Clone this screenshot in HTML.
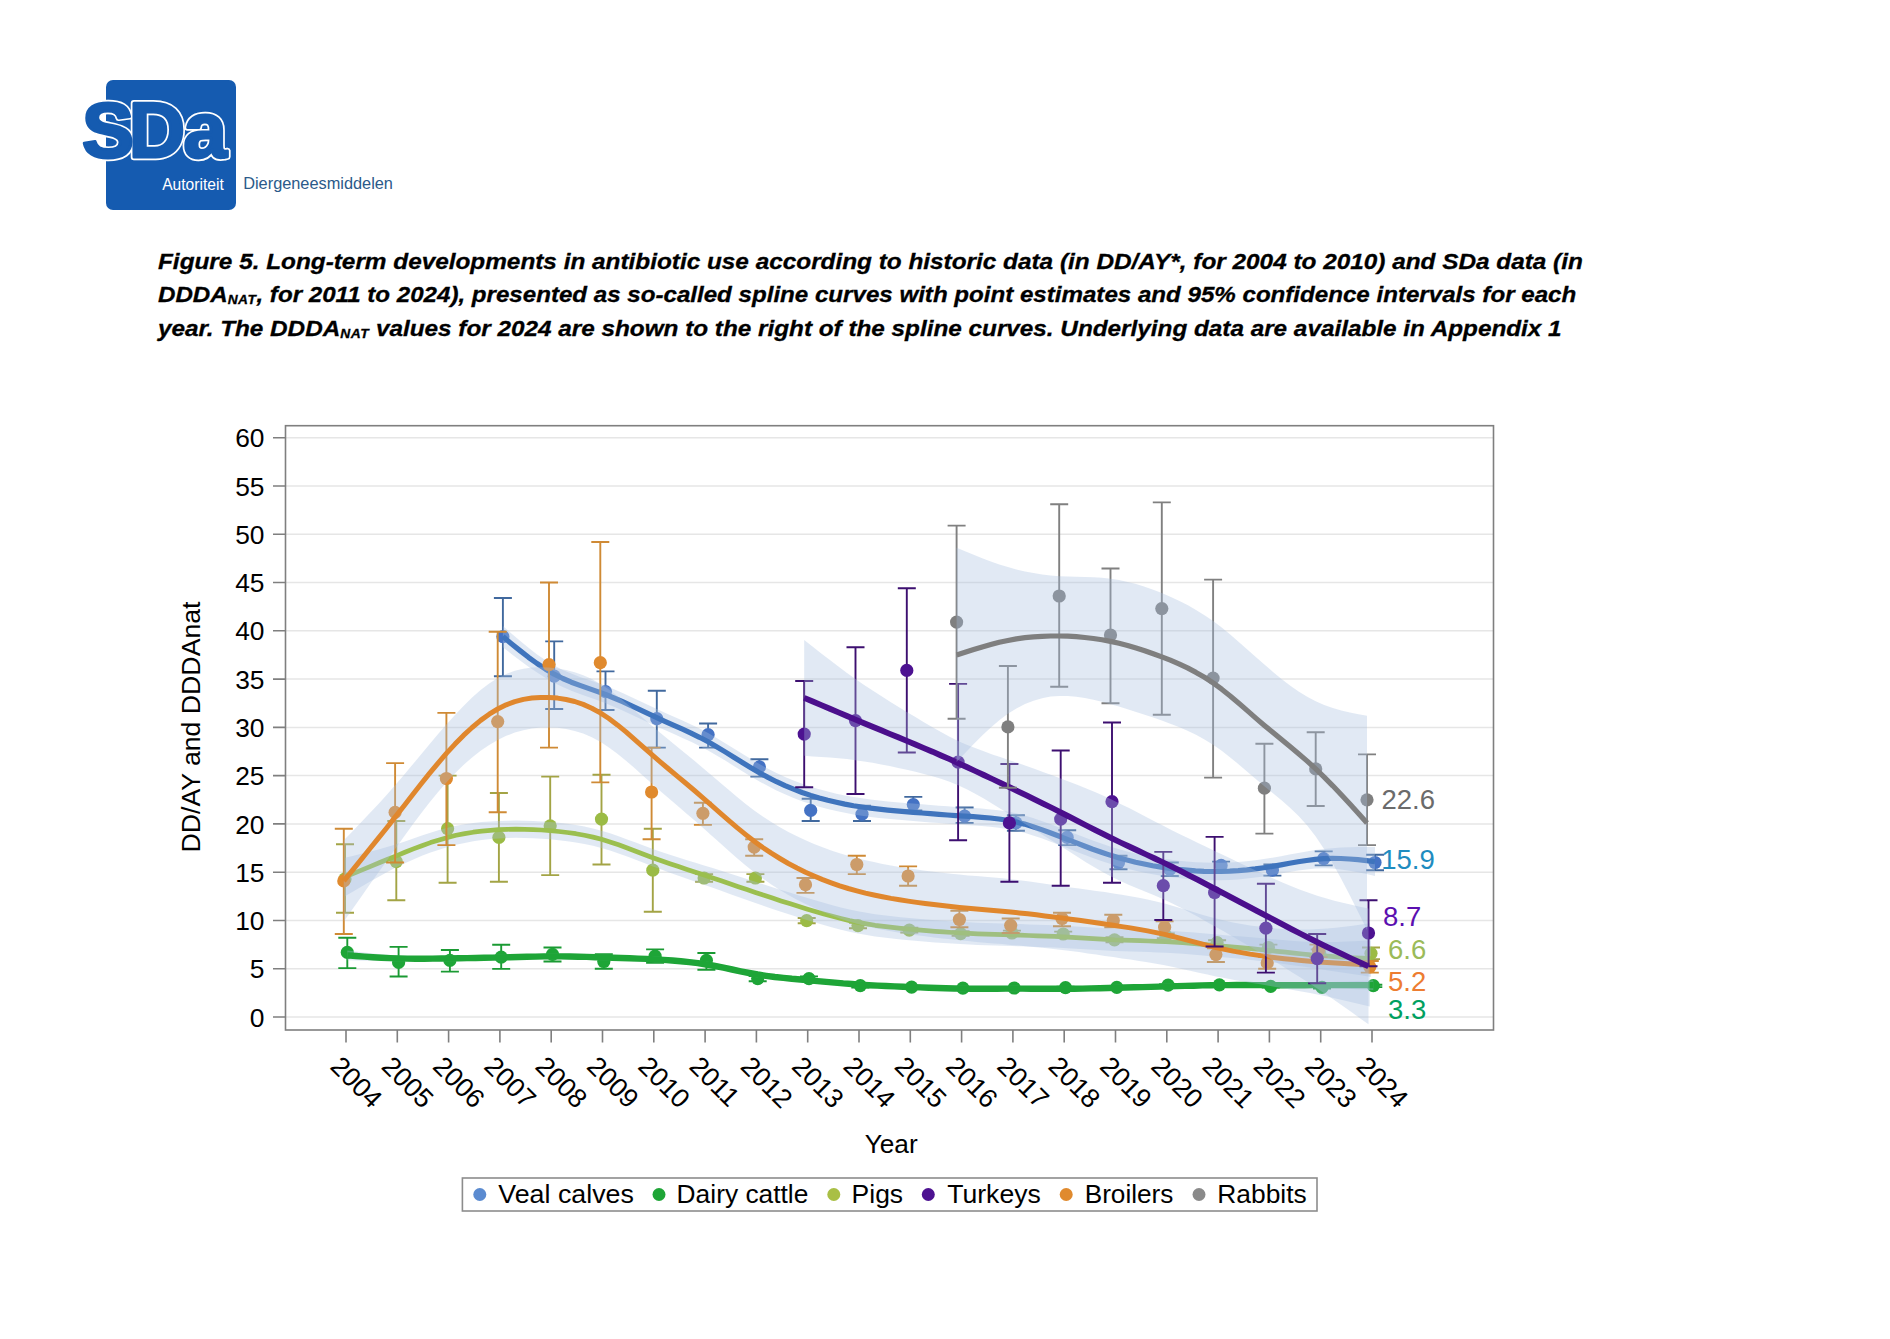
<!DOCTYPE html>
<html lang="en"><head><meta charset="utf-8"><title>Figure 5</title>
<style>
html,body{margin:0;padding:0;background:#fff;}
body{width:1890px;height:1339px;position:relative;overflow:hidden;font-family:"Liberation Sans",sans-serif;}
#logo{position:absolute;left:0;top:0;}
.cap{position:absolute;left:158px;white-space:nowrap;font:italic bold 22px "Liberation Sans",sans-serif;color:#000;-webkit-text-stroke:0.3px #000;transform-origin:0 50%;line-height:30px;height:30px;}
.cap .sub{font-size:12.5px;position:relative;top:2px;letter-spacing:0.5px;}
svg text{font-family:"Liberation Sans",sans-serif;}
</style></head><body>
<svg id="logo" width="460" height="230" viewBox="0 0 460 230">
<rect x="106" y="80" width="130" height="130" rx="7" fill="#155bb0"/>
<g font-weight="bold" font-size="78" text-anchor="middle" stroke-linejoin="round" fill="#155bb0">
<text y="157.3" stroke="#fff" stroke-width="6.4"><tspan x="108">S</tspan><tspan x="157">D</tspan><tspan x="205.2">a</tspan></text>
<text y="157.3" stroke="#155bb0" stroke-width="3"><tspan x="108">S</tspan><tspan x="157">D</tspan><tspan x="205.2">a</tspan></text>
</g>
<text x="162.2" y="189.6" font-size="15.6" fill="#fff">Autoriteit</text>
<text x="243.2" y="189.4" font-size="16.33" fill="#2b5a8a">Diergeneesmiddelen</text>
</svg>
<div class="cap" id="c1" style="top:246.6px;transform:scaleX(1.1062)">Figure 5. Long-term developments in antibiotic use according to historic data (in DD/AY*, for 2004 to 2010) and SDa data (in</div>
<div class="cap" id="c2" style="top:279.5px;transform:scaleX(1.0962)">DDDA<span class="sub">NAT</span>, for 2011 to 2024), presented as so-called spline curves with point estimates and 95% confidence intervals for each</div>
<div class="cap" id="c3" style="top:313.9px;transform:scaleX(1.1041)">year. The DDDA<span class="sub">NAT</span> values for 2024 are shown to the right of the spline curves. Underlying data are available in Appendix 1</div>
<svg width="1890" height="1339" viewBox="0 0 1890 1339" style="position:absolute;left:0;top:0">
<path d="M286,1017.0H1493M286,968.7H1493M286,920.5H1493M286,872.2H1493M286,823.9H1493M286,775.6H1493M286,727.4H1493M286,679.1H1493M286,630.8H1493M286,582.5H1493M286,534.2H1493M286,486.0H1493M286,437.7H1493" stroke="#e6e6e6" stroke-width="1.5" fill="none"/>
<g id="veal">
<path d="M502.9,598.0V676.2M493.9,598.0h18M493.9,676.2h18M554.2,641.4V709.0M545.2,641.4h18M545.2,709.0h18M605.5,671.4V710.0M596.5,671.4h18M596.5,710.0h18M656.8,690.7V747.6M647.8,690.7h18M647.8,747.6h18M708.1,723.5V747.6M699.1,723.5h18M699.1,747.6h18M759.4,759.2V776.6M750.4,759.2h18M750.4,776.6h18M810.7,798.8V821.0M801.7,798.8h18M801.7,821.0h18M862.0,805.6V821.0M853.0,805.6h18M853.0,821.0h18M913.3,796.9V810.4M904.3,796.9h18M904.3,810.4h18M964.6,807.5V822.9M955.6,807.5h18M955.6,822.9h18M1015.9,815.2V830.7M1006.9,815.2h18M1006.9,830.7h18M1067.2,830.2V845.1M1058.2,830.2h18M1058.2,845.1h18M1118.5,855.8V869.3M1109.5,855.8h18M1109.5,869.3h18M1169.8,862.5V876.0M1160.8,862.5h18M1160.8,876.0h18M1221.1,861.6V870.2M1212.1,861.6h18M1212.1,870.2h18M1272.4,864.5V875.6M1263.4,864.5h18M1263.4,875.6h18M1323.7,851.4V865.4M1314.7,851.4h18M1314.7,865.4h18M1375.0,854.8V870.2M1366.0,854.8h18M1366.0,870.2h18" fill="none" stroke="#41699e" stroke-width="1.9"/>
<g fill="#4472c4"><circle cx="502.9" cy="636.6" r="6.6"/><circle cx="554.2" cy="676.2" r="6.6"/><circle cx="605.5" cy="691.6" r="6.6"/><circle cx="656.8" cy="718.7" r="6.6"/><circle cx="708.1" cy="734.6" r="6.6"/><circle cx="759.4" cy="766.9" r="6.6"/><circle cx="810.7" cy="810.4" r="6.6"/><circle cx="862.0" cy="814.2" r="6.6"/><circle cx="913.3" cy="804.6" r="6.6"/><circle cx="964.6" cy="816.2" r="6.6"/><circle cx="1015.9" cy="822.9" r="6.6"/><circle cx="1067.2" cy="837.4" r="6.6"/><circle cx="1118.5" cy="862.5" r="6.6"/><circle cx="1169.8" cy="869.3" r="6.6"/><circle cx="1221.1" cy="865.4" r="6.6"/><circle cx="1272.4" cy="870.2" r="6.6"/><circle cx="1323.7" cy="858.7" r="6.6"/><circle cx="1375.0" cy="862.5" r="6.6"/></g>
<path d="M502.9,626.0 L511.4,633.4 L520.0,640.8 L528.5,647.8 L537.1,654.4 L545.6,660.3 L554.2,665.6 L562.8,669.9 L571.3,673.6 L579.9,676.9 L588.4,679.8 L597.0,682.7 L605.5,685.8 L614.0,689.3 L622.6,693.0 L631.1,696.9 L639.7,700.9 L648.2,705.0 L656.8,709.0 L665.4,712.9 L673.9,716.7 L682.5,720.5 L691.0,724.5 L699.5,728.6 L708.1,733.1 L716.6,738.0 L725.2,743.2 L733.8,748.5 L742.3,753.8 L750.9,759.0 L759.4,764.0 L768.0,768.7 L776.5,773.0 L785.0,776.9 L793.6,780.5 L802.1,783.8 L810.7,786.7 L819.2,789.3 L827.8,791.6 L836.4,793.7 L844.9,795.4 L853.5,797.0 L862.0,798.3 L870.5,799.5 L879.1,800.5 L887.7,801.4 L896.2,802.2 L904.8,802.9 L913.3,803.6 L921.9,804.3 L930.4,805.0 L939.0,805.7 L947.5,806.3 L956.0,806.9 L964.6,807.5 L973.2,808.0 L981.7,808.6 L990.2,809.4 L998.8,810.3 L1007.4,811.6 L1015.9,813.3 L1024.5,815.4 L1033.0,818.0 L1041.6,820.9 L1050.1,824.0 L1058.7,827.3 L1067.2,830.7 L1075.8,834.0 L1084.3,837.3 L1092.8,840.5 L1101.4,843.5 L1110.0,846.4 L1118.5,849.0 L1127.1,851.4 L1135.6,853.5 L1144.2,855.3 L1152.7,857.0 L1161.2,858.4 L1169.8,859.6 L1178.3,860.7 L1186.9,861.5 L1195.5,862.2 L1204.0,862.6 L1212.6,862.8 L1221.1,862.8 L1229.7,862.5 L1238.2,862.0 L1246.8,861.2 L1255.3,860.2 L1263.8,859.1 L1272.4,857.7 L1281.0,856.2 L1289.5,854.6 L1298.1,853.0 L1306.6,851.5 L1315.2,850.1 L1323.7,849.0 L1332.2,848.2 L1340.8,847.6 L1349.3,847.3 L1357.9,847.1 L1366.5,847.1 L1375.0,847.1 L1375.0,876.0 L1366.5,874.1 L1357.9,872.3 L1349.3,870.7 L1340.8,869.5 L1332.2,868.6 L1323.7,868.3 L1315.2,868.6 L1306.6,869.4 L1298.1,870.6 L1289.5,872.0 L1281.0,873.6 L1272.4,875.1 L1263.8,876.4 L1255.3,877.6 L1246.8,878.6 L1238.2,879.4 L1229.7,879.9 L1221.1,880.2 L1212.6,880.2 L1204.0,880.0 L1195.5,879.6 L1186.9,878.9 L1178.3,878.1 L1169.8,877.0 L1161.2,875.8 L1152.7,874.3 L1144.2,872.7 L1135.6,870.8 L1127.1,868.7 L1118.5,866.4 L1110.0,863.8 L1101.4,860.9 L1092.8,857.9 L1084.3,854.7 L1075.8,851.4 L1067.2,848.0 L1058.7,844.7 L1050.1,841.4 L1041.6,838.3 L1033.0,835.4 L1024.5,832.8 L1015.9,830.7 L1007.4,829.0 L998.8,827.7 L990.2,826.7 L981.7,826.0 L973.2,825.4 L964.6,824.9 L956.0,824.3 L947.5,823.7 L939.0,823.0 L930.4,822.4 L921.9,821.7 L913.3,821.0 L904.8,820.3 L896.2,819.6 L887.7,818.8 L879.1,817.9 L870.5,816.9 L862.0,815.7 L853.5,814.4 L844.9,812.8 L836.4,811.0 L827.8,809.0 L819.2,806.7 L810.7,804.1 L802.1,801.2 L793.6,797.9 L785.0,794.3 L776.5,790.4 L768.0,786.1 L759.4,781.4 L750.9,776.4 L742.3,771.2 L733.8,765.9 L725.2,760.6 L716.6,755.4 L708.1,750.5 L699.5,746.0 L691.0,741.8 L682.5,737.9 L673.9,734.0 L665.4,730.2 L656.8,726.4 L648.2,722.4 L639.7,718.4 L631.1,714.4 L622.6,710.4 L614.0,706.7 L605.5,703.2 L597.0,700.0 L588.4,697.0 L579.9,694.0 L571.3,690.7 L562.8,687.1 L554.2,682.9 L545.6,678.1 L537.1,672.6 L528.5,666.7 L520.0,660.4 L511.4,653.9 L502.9,647.2Z" fill="#a8bedf" fill-opacity="0.34"/>
<path d="M502.9,636.6 L511.4,643.7 L520.0,650.6 L528.5,657.3 L537.1,663.5 L545.6,669.2 L554.2,674.2 L562.8,678.5 L571.3,682.2 L579.9,685.4 L588.4,688.4 L597.0,691.4 L605.5,694.5 L614.0,698.0 L622.6,701.7 L631.1,705.6 L639.7,709.7 L648.2,713.7 L656.8,717.7 L665.4,721.6 L673.9,725.4 L682.5,729.2 L691.0,733.1 L699.5,737.3 L708.1,741.8 L716.6,746.7 L725.2,751.9 L733.8,757.2 L742.3,762.5 L750.9,767.7 L759.4,772.7 L768.0,777.4 L776.5,781.7 L785.0,785.6 L793.6,789.2 L802.1,792.5 L810.7,795.4 L819.2,798.0 L827.8,800.3 L836.4,802.3 L844.9,804.1 L853.5,805.7 L862.0,807.0 L870.5,808.2 L879.1,809.2 L887.7,810.1 L896.2,810.9 L904.8,811.6 L913.3,812.3 L921.9,813.0 L930.4,813.7 L939.0,814.4 L947.5,815.0 L956.0,815.6 L964.6,816.2 L973.2,816.7 L981.7,817.3 L990.2,818.0 L998.8,819.0 L1007.4,820.3 L1015.9,822.0 L1024.5,824.1 L1033.0,826.7 L1041.6,829.6 L1050.1,832.7 L1058.7,836.0 L1067.2,839.3 L1075.8,842.7 L1084.3,846.0 L1092.8,849.2 L1101.4,852.2 L1110.0,855.1 L1118.5,857.7 L1127.1,860.1 L1135.6,862.2 L1144.2,864.0 L1152.7,865.7 L1161.2,867.1 L1169.8,868.3 L1178.3,869.4 L1186.9,870.2 L1195.5,870.9 L1204.0,871.3 L1212.6,871.5 L1221.1,871.5 L1229.7,871.2 L1238.2,870.7 L1246.8,869.9 L1255.3,868.9 L1263.8,867.7 L1272.4,866.4 L1281.0,864.9 L1289.5,863.3 L1298.1,861.8 L1306.6,860.5 L1315.2,859.4 L1323.7,858.7 L1332.2,858.4 L1340.8,858.5 L1349.3,859.0 L1357.9,859.7 L1366.5,860.6 L1375.0,861.6" fill="none" stroke="#3f74bd" stroke-width="5.2" stroke-linejoin="round"/>
</g>
<g id="dairy">
<path d="M347.3,937.8V968.1M338.3,937.8h18M338.3,968.1h18M398.6,946.9V976.5M389.6,946.9h18M389.6,976.5h18M449.9,950.0V971.6M440.9,950.0h18M440.9,971.6h18M501.2,944.7V968.9M492.2,944.7h18M492.2,968.9h18M552.5,947.5V961.5M543.5,947.5h18M543.5,961.5h18M603.8,954.2V968.7M594.8,954.2h18M594.8,968.7h18M655.1,949.4V962.9M646.1,949.4h18M646.1,962.9h18M706.4,953.0V969.7M697.4,953.0h18M697.4,969.7h18M757.7,976.0V981.3M748.7,976.0h18M748.7,981.3h18M809.0,976.4V980.8M800.0,976.4h18M800.0,980.8h18M860.3,983.7V987.6M851.3,983.7h18M851.3,987.6h18M911.6,985.6V988.5M902.6,985.6h18M902.6,988.5h18M962.9,987.1V989.5M953.9,987.1h18M953.9,989.5h18M1014.2,987.1V989.0M1005.2,987.1h18M1005.2,989.0h18M1065.5,986.6V989.0M1056.5,986.6h18M1056.5,989.0h18M1116.8,986.1V988.5M1107.8,986.1h18M1107.8,988.5h18M1168.1,984.2V986.1M1159.1,984.2h18M1159.1,986.1h18M1219.4,983.7V986.1M1210.4,983.7h18M1210.4,986.1h18M1270.7,985.1V987.6M1261.7,985.1h18M1261.7,987.6h18M1322.0,986.1V988.5M1313.0,986.1h18M1313.0,988.5h18M1373.3,984.7V987.1M1364.3,984.7h18M1364.3,987.1h18" fill="none" stroke="#1a9a33" stroke-width="1.9"/>
<g fill="#1ea537"><circle cx="347.3" cy="952.4" r="6.6"/><circle cx="398.6" cy="962.4" r="6.6"/><circle cx="449.9" cy="960.4" r="6.6"/><circle cx="501.2" cy="957.1" r="6.6"/><circle cx="552.5" cy="954.4" r="6.6"/><circle cx="603.8" cy="961.5" r="6.6"/><circle cx="655.1" cy="956.2" r="6.6"/><circle cx="706.4" cy="960.4" r="6.6"/><circle cx="757.7" cy="978.6" r="6.6"/><circle cx="809.0" cy="978.6" r="6.6"/><circle cx="860.3" cy="985.6" r="6.6"/><circle cx="911.6" cy="987.1" r="6.6"/><circle cx="962.9" cy="988.2" r="6.6"/><circle cx="1014.2" cy="988.0" r="6.6"/><circle cx="1065.5" cy="987.7" r="6.6"/><circle cx="1116.8" cy="987.4" r="6.6"/><circle cx="1168.1" cy="985.1" r="6.6"/><circle cx="1219.4" cy="984.8" r="6.6"/><circle cx="1270.7" cy="986.4" r="6.6"/><circle cx="1322.0" cy="987.4" r="6.6"/><circle cx="1373.3" cy="985.7" r="6.6"/></g>
<path d="M347.3,950.6 L355.9,951.6 L364.4,952.6 L372.9,953.5 L381.5,954.3 L390.1,955.0 L398.6,955.5 L407.2,955.8 L415.7,955.9 L424.2,955.9 L432.8,955.8 L441.4,955.7 L449.9,955.5 L458.5,955.3 L467.0,955.2 L475.6,955.0 L484.1,954.9 L492.7,954.7 L501.2,954.5 L509.8,954.3 L518.3,954.1 L526.9,953.9 L535.4,953.7 L544.0,953.5 L552.5,953.5 L561.1,953.5 L569.6,953.6 L578.2,953.8 L586.7,954.0 L595.2,954.3 L603.8,954.5 L612.4,954.8 L620.9,955.1 L629.5,955.3 L638.0,955.7 L646.5,956.0 L655.1,956.5 L663.7,957.0 L672.2,957.6 L680.8,958.3 L689.3,959.2 L697.9,960.3 L706.4,961.6 L715.0,963.1 L723.5,964.8 L732.1,966.6 L740.6,968.4 L749.2,970.1 L757.7,971.6 L766.2,972.9 L774.8,974.1 L783.4,975.0 L791.9,975.9 L800.5,976.7 L809.0,977.4 L817.6,978.2 L826.1,979.0 L834.7,979.7 L843.2,980.5 L851.8,981.1 L860.3,981.8 L868.9,982.3 L877.4,982.7 L886.0,983.2 L894.5,983.5 L903.0,983.8 L911.6,984.2 L920.2,984.5 L928.7,984.8 L937.2,985.1 L945.8,985.4 L954.4,985.6 L962.9,985.7 L971.5,985.8 L980.0,985.8 L988.5,985.8 L997.1,985.8 L1005.7,985.7 L1014.2,985.7 L1022.8,985.7 L1031.3,985.8 L1039.9,985.9 L1048.4,985.9 L1057.0,985.9 L1065.5,985.9 L1074.1,985.8 L1082.6,985.7 L1091.2,985.5 L1099.7,985.3 L1108.2,985.1 L1116.8,984.8 L1125.4,984.6 L1133.9,984.4 L1142.5,984.2 L1151.0,984.0 L1159.6,983.7 L1168.1,983.5 L1176.7,983.3 L1185.2,983.0 L1193.8,982.8 L1202.3,982.6 L1210.9,982.4 L1219.4,982.2 L1228.0,982.2 L1236.5,982.1 L1245.1,982.1 L1253.6,982.1 L1262.2,982.2 L1270.7,982.2 L1279.2,982.3 L1287.8,982.4 L1296.4,982.4 L1304.9,982.4 L1313.5,982.4 L1322.0,982.2 L1330.6,982.0 L1339.1,981.8 L1347.7,981.5 L1356.2,981.1 L1364.8,980.7 L1373.3,980.3 L1373.3,990.0 L1364.8,989.6 L1356.2,989.2 L1347.7,988.8 L1339.1,988.5 L1330.6,988.2 L1322.0,988.0 L1313.5,987.9 L1304.9,987.9 L1296.4,987.9 L1287.8,988.0 L1279.2,988.0 L1270.7,988.0 L1262.2,988.0 L1253.6,988.0 L1245.1,988.0 L1236.5,988.0 L1228.0,988.0 L1219.4,988.0 L1210.9,988.2 L1202.3,988.3 L1193.8,988.5 L1185.2,988.8 L1176.7,989.0 L1168.1,989.3 L1159.6,989.5 L1151.0,989.8 L1142.5,990.0 L1133.9,990.2 L1125.4,990.4 L1116.8,990.6 L1108.2,990.9 L1099.7,991.1 L1091.2,991.3 L1082.6,991.5 L1074.1,991.6 L1065.5,991.7 L1057.0,991.7 L1048.4,991.7 L1039.9,991.7 L1031.3,991.6 L1022.8,991.5 L1014.2,991.5 L1005.7,991.5 L997.1,991.6 L988.5,991.6 L980.0,991.6 L971.5,991.6 L962.9,991.5 L954.4,991.4 L945.8,991.2 L937.2,990.9 L928.7,990.6 L920.2,990.3 L911.6,990.0 L903.0,989.6 L894.5,989.3 L886.0,988.9 L877.4,988.5 L868.9,988.1 L860.3,987.6 L851.8,986.9 L843.2,986.3 L834.7,985.5 L826.1,984.8 L817.6,984.0 L809.0,983.2 L800.5,982.4 L791.9,981.7 L783.4,980.8 L774.8,979.8 L766.2,978.7 L757.7,977.4 L749.2,975.9 L740.6,974.2 L732.1,972.4 L723.5,970.6 L715.0,968.9 L706.4,967.4 L697.9,966.1 L689.3,965.0 L680.8,964.1 L672.2,963.4 L663.7,962.8 L655.1,962.3 L646.5,961.8 L638.0,961.5 L629.5,961.1 L620.9,960.9 L612.4,960.6 L603.8,960.3 L595.2,960.1 L586.7,959.8 L578.2,959.6 L569.6,959.4 L561.1,959.3 L552.5,959.3 L544.0,959.3 L535.4,959.4 L526.9,959.6 L518.3,959.8 L509.8,960.1 L501.2,960.3 L492.7,960.5 L484.1,960.7 L475.6,960.9 L467.0,961.1 L458.5,961.2 L449.9,961.3 L441.4,961.4 L432.8,961.4 L424.2,961.4 L415.7,961.4 L407.2,961.4 L398.6,961.3 L390.1,961.2 L381.5,961.0 L372.9,960.8 L364.4,960.7 L355.9,960.4 L347.3,960.2Z" fill="#a8bedf" fill-opacity="0.34"/>
<path d="M347.3,955.4 L355.9,956.0 L364.4,956.6 L372.9,957.2 L381.5,957.7 L390.1,958.1 L398.6,958.4 L407.2,958.6 L415.7,958.7 L424.2,958.7 L432.8,958.6 L441.4,958.5 L449.9,958.4 L458.5,958.3 L467.0,958.1 L475.6,958.0 L484.1,957.8 L492.7,957.6 L501.2,957.4 L509.8,957.2 L518.3,957.0 L526.9,956.7 L535.4,956.6 L544.0,956.4 L552.5,956.4 L561.1,956.4 L569.6,956.5 L578.2,956.7 L586.7,956.9 L595.2,957.2 L603.8,957.4 L612.4,957.7 L620.9,958.0 L629.5,958.2 L638.0,958.6 L646.5,958.9 L655.1,959.4 L663.7,959.9 L672.2,960.5 L680.8,961.2 L689.3,962.1 L697.9,963.2 L706.4,964.5 L715.0,966.0 L723.5,967.7 L732.1,969.5 L740.6,971.3 L749.2,973.0 L757.7,974.5 L766.2,975.8 L774.8,977.0 L783.4,977.9 L791.9,978.8 L800.5,979.5 L809.0,980.3 L817.6,981.1 L826.1,981.9 L834.7,982.6 L843.2,983.4 L851.8,984.0 L860.3,984.7 L868.9,985.2 L877.4,985.6 L886.0,986.0 L894.5,986.4 L903.0,986.7 L911.6,987.1 L920.2,987.4 L928.7,987.7 L937.2,988.0 L945.8,988.3 L954.4,988.5 L962.9,988.6 L971.5,988.7 L980.0,988.7 L988.5,988.7 L997.1,988.7 L1005.7,988.6 L1014.2,988.6 L1022.8,988.6 L1031.3,988.7 L1039.9,988.8 L1048.4,988.8 L1057.0,988.8 L1065.5,988.8 L1074.1,988.7 L1082.6,988.6 L1091.2,988.4 L1099.7,988.2 L1108.2,988.0 L1116.8,987.7 L1125.4,987.5 L1133.9,987.3 L1142.5,987.1 L1151.0,986.9 L1159.6,986.6 L1168.1,986.4 L1176.7,986.1 L1185.2,985.9 L1193.8,985.7 L1202.3,985.4 L1210.9,985.3 L1219.4,985.1 L1228.0,985.1 L1236.5,985.0 L1245.1,985.0 L1253.6,985.1 L1262.2,985.1 L1270.7,985.1 L1279.2,985.2 L1287.8,985.2 L1296.4,985.2 L1304.9,985.2 L1313.5,985.1 L1322.0,985.1 L1330.6,985.1 L1339.1,985.1 L1347.7,985.1 L1356.2,985.1 L1364.8,985.1 L1373.3,985.1" fill="none" stroke="#1ea537" stroke-width="6.4" stroke-linejoin="round"/>
</g>
<g id="pigs">
<path d="M345.0,844.2V912.7M336.0,844.2h18M336.0,912.7h18M396.3,821.0V900.2M387.3,821.0h18M387.3,900.2h18M447.6,775.6V882.8M438.6,775.6h18M438.6,882.8h18M498.9,793.0V881.8M489.9,793.0h18M489.9,881.8h18M550.2,776.6V875.1M541.2,776.6h18M541.2,875.1h18M601.5,774.7V864.5M592.5,774.7h18M592.5,864.5h18M652.8,828.7V911.8M643.8,828.7h18M643.8,911.8h18M704.1,874.1V881.8M695.1,874.1h18M695.1,881.8h18M755.4,874.1V881.8M746.4,874.1h18M746.4,881.8h18M806.7,918.0V923.3M797.7,918.0h18M797.7,923.3h18M858.0,922.9V928.2M849.0,922.9h18M849.0,928.2h18M909.3,927.7V932.5M900.3,927.7h18M900.3,932.5h18M960.6,931.1V935.9M951.6,931.1h18M951.6,935.9h18M1011.9,930.6V935.4M1002.9,930.6h18M1002.9,935.4h18M1063.2,931.6V936.4M1054.2,931.6h18M1054.2,936.4h18M1114.5,937.3V942.2M1105.5,937.3h18M1105.5,942.2h18M1165.8,933.5V938.3M1156.8,933.5h18M1156.8,938.3h18M1217.1,940.2V945.1M1208.1,940.2h18M1208.1,945.1h18M1268.4,944.6V950.4M1259.4,944.6h18M1259.4,950.4h18M1319.7,949.4V957.1M1310.7,949.4h18M1310.7,957.1h18M1371.0,947.5V959.1M1362.0,947.5h18M1362.0,959.1h18" fill="none" stroke="#a3a445" stroke-width="1.9"/>
<g fill="#9bbb45"><circle cx="345.0" cy="878.9" r="6.6"/><circle cx="396.3" cy="861.6" r="6.6"/><circle cx="447.6" cy="828.7" r="6.6"/><circle cx="498.9" cy="837.4" r="6.6"/><circle cx="550.2" cy="825.8" r="6.6"/><circle cx="601.5" cy="819.1" r="6.6"/><circle cx="652.8" cy="870.2" r="6.6"/><circle cx="704.1" cy="878.0" r="6.6"/><circle cx="755.4" cy="878.0" r="6.6"/><circle cx="806.7" cy="920.7" r="6.6"/><circle cx="858.0" cy="925.6" r="6.6"/><circle cx="909.3" cy="930.2" r="6.6"/><circle cx="960.6" cy="933.7" r="6.6"/><circle cx="1011.9" cy="933.0" r="6.6"/><circle cx="1063.2" cy="934.0" r="6.6"/><circle cx="1114.5" cy="939.8" r="6.6"/><circle cx="1165.8" cy="935.9" r="6.6"/><circle cx="1217.1" cy="942.7" r="6.6"/><circle cx="1268.4" cy="947.5" r="6.6"/><circle cx="1319.7" cy="953.3" r="6.6"/><circle cx="1371.0" cy="953.3" r="6.6"/></g>
<path d="M345.0,857.7 L353.6,855.7 L362.1,853.6 L370.6,851.4 L379.2,849.2 L387.8,846.8 L396.3,844.2 L404.9,841.4 L413.4,838.5 L421.9,835.5 L430.5,832.7 L439.1,830.1 L447.6,827.8 L456.1,825.8 L464.7,824.3 L473.2,823.1 L481.8,822.1 L490.4,821.5 L498.9,821.0 L507.5,820.7 L516.0,820.6 L524.5,820.7 L533.1,820.9 L541.6,821.4 L550.2,822.0 L558.8,822.8 L567.3,823.7 L575.9,825.0 L584.4,826.5 L593.0,828.4 L601.5,830.7 L610.0,833.3 L618.6,836.2 L627.2,839.4 L635.7,842.6 L644.2,845.8 L652.8,849.0 L661.4,852.0 L669.9,854.8 L678.5,857.5 L687.0,860.2 L695.5,862.8 L704.1,865.4 L712.7,868.1 L721.2,870.8 L729.8,873.6 L738.3,876.3 L746.9,879.1 L755.4,881.8 L764.0,884.6 L772.5,887.2 L781.0,889.9 L789.6,892.6 L798.2,895.2 L806.7,897.8 L815.2,900.3 L823.8,902.8 L832.4,905.2 L840.9,907.4 L849.5,909.5 L858.0,911.3 L866.6,912.8 L875.1,914.2 L883.7,915.3 L892.2,916.3 L900.8,917.2 L909.3,918.0 L917.9,918.8 L926.4,919.5 L935.0,920.2 L943.5,920.8 L952.1,921.4 L960.6,921.9 L969.2,922.3 L977.7,922.7 L986.2,923.0 L994.8,923.3 L1003.4,923.6 L1011.9,923.8 L1020.5,924.1 L1029.0,924.4 L1037.6,924.7 L1046.1,925.0 L1054.7,925.3 L1063.2,925.8 L1071.8,926.2 L1080.3,926.7 L1088.8,927.3 L1097.4,927.8 L1106.0,928.2 L1114.5,928.7 L1123.1,929.0 L1131.6,929.3 L1140.2,929.6 L1148.7,929.9 L1157.2,930.2 L1165.8,930.6 L1174.3,931.1 L1182.9,931.7 L1191.5,932.3 L1200.0,933.0 L1208.6,933.7 L1217.1,934.4 L1225.7,935.2 L1234.2,935.9 L1242.8,936.6 L1251.3,937.3 L1259.8,938.1 L1268.4,938.8 L1277.0,939.5 L1285.5,940.2 L1294.1,940.9 L1302.6,941.4 L1311.2,941.8 L1319.7,942.1 L1328.2,942.1 L1336.8,941.9 L1345.4,941.6 L1353.9,941.2 L1362.5,940.8 L1371.0,940.2 L1371.0,976.9 L1362.5,975.6 L1353.9,974.3 L1345.4,973.0 L1336.8,971.7 L1328.2,970.4 L1319.7,969.1 L1311.2,967.8 L1302.6,966.6 L1294.1,965.4 L1285.5,964.2 L1277.0,963.0 L1268.4,962.0 L1259.8,961.0 L1251.3,960.0 L1242.8,959.1 L1234.2,958.3 L1225.7,957.4 L1217.1,956.7 L1208.6,955.9 L1200.0,955.2 L1191.5,954.5 L1182.9,953.8 L1174.3,953.3 L1165.8,952.8 L1157.2,952.4 L1148.7,952.1 L1140.2,951.8 L1131.6,951.5 L1123.1,951.2 L1114.5,950.9 L1106.0,950.4 L1097.4,950.0 L1088.8,949.5 L1080.3,948.9 L1071.8,948.4 L1063.2,948.0 L1054.7,947.6 L1046.1,947.2 L1037.6,946.9 L1029.0,946.6 L1020.5,946.3 L1011.9,946.0 L1003.4,945.8 L994.8,945.5 L986.2,945.2 L977.7,944.9 L969.2,944.5 L960.6,944.1 L952.1,943.6 L943.5,943.0 L935.0,942.4 L926.4,941.7 L917.9,941.0 L909.3,940.2 L900.8,939.4 L892.2,938.5 L883.7,937.5 L875.1,936.4 L866.6,935.0 L858.0,933.5 L849.5,931.7 L840.9,929.7 L832.4,927.4 L823.8,925.1 L815.2,922.6 L806.7,920.0 L798.2,917.3 L789.6,914.6 L781.0,911.8 L772.5,908.9 L764.0,906.0 L755.4,903.1 L746.9,900.1 L738.3,897.0 L729.8,893.9 L721.2,890.8 L712.7,887.8 L704.1,884.7 L695.5,881.7 L687.0,878.7 L678.5,875.7 L669.9,872.7 L661.4,869.6 L652.8,866.4 L644.2,863.1 L635.7,859.8 L627.2,856.6 L618.6,853.5 L610.0,850.6 L601.5,848.0 L593.0,845.8 L584.4,844.0 L575.9,842.5 L567.3,841.2 L558.8,840.2 L550.2,839.3 L541.6,838.7 L533.1,838.2 L524.5,837.9 L516.0,837.8 L507.5,838.0 L498.9,838.4 L490.4,839.1 L481.8,840.1 L473.2,841.3 L464.7,842.9 L456.1,844.8 L447.6,847.1 L439.1,849.7 L430.5,852.6 L421.9,855.8 L413.4,859.4 L404.9,863.2 L396.3,867.3 L387.8,871.8 L379.2,876.4 L370.6,881.2 L362.1,886.2 L353.6,891.2 L345.0,896.3Z" fill="#a8bedf" fill-opacity="0.34"/>
<path d="M345.0,877.0 L353.6,873.4 L362.1,869.9 L370.6,866.3 L379.2,862.8 L387.8,859.3 L396.3,855.8 L404.9,852.3 L413.4,848.9 L421.9,845.7 L430.5,842.6 L439.1,839.9 L447.6,837.4 L456.1,835.3 L464.7,833.6 L473.2,832.2 L481.8,831.1 L490.4,830.3 L498.9,829.7 L507.5,829.3 L516.0,829.2 L524.5,829.3 L533.1,829.6 L541.6,830.0 L550.2,830.7 L558.8,831.5 L567.3,832.5 L575.9,833.7 L584.4,835.3 L593.0,837.1 L601.5,839.3 L610.0,841.9 L618.6,844.8 L627.2,848.0 L635.7,851.2 L644.2,854.5 L652.8,857.7 L661.4,860.8 L669.9,863.7 L678.5,866.6 L687.0,869.4 L695.5,872.2 L704.1,875.1 L712.7,877.9 L721.2,880.8 L729.8,883.7 L738.3,886.7 L746.9,889.6 L755.4,892.5 L764.0,895.3 L772.5,898.1 L781.0,900.9 L789.6,903.6 L798.2,906.2 L806.7,908.9 L815.2,911.4 L823.8,913.9 L832.4,916.3 L840.9,918.5 L849.5,920.6 L858.0,922.4 L866.6,923.9 L875.1,925.3 L883.7,926.4 L892.2,927.4 L900.8,928.3 L909.3,929.1 L917.9,929.9 L926.4,930.6 L935.0,931.3 L943.5,931.9 L952.1,932.5 L960.6,933.0 L969.2,933.4 L977.7,933.8 L986.2,934.1 L994.8,934.4 L1003.4,934.7 L1011.9,934.9 L1020.5,935.2 L1029.0,935.5 L1037.6,935.8 L1046.1,936.1 L1054.7,936.4 L1063.2,936.9 L1071.8,937.3 L1080.3,937.8 L1088.8,938.4 L1097.4,938.9 L1106.0,939.3 L1114.5,939.8 L1123.1,940.1 L1131.6,940.4 L1140.2,940.7 L1148.7,941.0 L1157.2,941.3 L1165.8,941.7 L1174.3,942.2 L1182.9,942.7 L1191.5,943.4 L1200.0,944.1 L1208.6,944.8 L1217.1,945.6 L1225.7,946.3 L1234.2,947.1 L1242.8,947.9 L1251.3,948.7 L1259.8,949.5 L1268.4,950.4 L1277.0,951.3 L1285.5,952.2 L1294.1,953.1 L1302.6,954.0 L1311.2,954.8 L1319.7,955.6 L1328.2,956.2 L1336.8,956.8 L1345.4,957.3 L1353.9,957.8 L1362.5,958.2 L1371.0,958.6" fill="none" stroke="#9bbf4f" stroke-width="4.7" stroke-linejoin="round"/>
</g>
<g id="broilers">
<path d="M343.8,828.7V934.0M334.8,828.7h18M334.8,934.0h18M395.1,763.1V862.5M386.1,763.1h18M386.1,862.5h18M446.4,712.9V845.1M437.4,712.9h18M437.4,845.1h18M497.7,631.8V812.3M488.7,631.8h18M488.7,812.3h18M549.0,582.5V747.6M540.0,582.5h18M540.0,747.6h18M600.3,542.0V782.4M591.3,542.0h18M591.3,782.4h18M651.6,747.6V839.3M642.6,747.6h18M642.6,839.3h18M702.9,802.7V824.9M693.9,802.7h18M693.9,824.9h18M754.2,839.3V855.8M745.2,839.3h18M745.2,855.8h18M805.5,878.0V892.9M796.5,878.0h18M796.5,892.9h18M856.8,855.8V874.1M847.8,855.8h18M847.8,874.1h18M908.1,866.4V885.7M899.1,866.4h18M899.1,885.7h18M959.4,910.8V927.2M950.4,910.8h18M950.4,927.2h18M1010.7,918.5V933.0M1001.7,918.5h18M1001.7,933.0h18M1062.0,912.7V926.2M1053.0,912.7h18M1053.0,926.2h18M1113.3,914.7V927.2M1104.3,914.7h18M1104.3,927.2h18M1164.6,921.4V934.0M1155.6,921.4h18M1155.6,934.0h18M1215.9,948.4V962.0M1206.9,948.4h18M1206.9,962.0h18M1267.2,957.1V968.7M1258.2,957.1h18M1258.2,968.7h18M1318.5,944.6V957.1M1309.5,944.6h18M1309.5,957.1h18M1369.8,961.0V972.6M1360.8,961.0h18M1360.8,972.6h18" fill="none" stroke="#cf8a35" stroke-width="1.9"/>
<g fill="#e08a2e"><circle cx="343.8" cy="880.9" r="6.6"/><circle cx="395.1" cy="812.3" r="6.6"/><circle cx="446.4" cy="778.5" r="6.6"/><circle cx="497.7" cy="721.6" r="6.6"/><circle cx="549.0" cy="664.6" r="6.6"/><circle cx="600.3" cy="662.7" r="6.6"/><circle cx="651.6" cy="792.0" r="6.6"/><circle cx="702.9" cy="813.3" r="6.6"/><circle cx="754.2" cy="847.1" r="6.6"/><circle cx="805.5" cy="884.7" r="6.6"/><circle cx="856.8" cy="864.5" r="6.6"/><circle cx="908.1" cy="876.0" r="6.6"/><circle cx="959.4" cy="919.5" r="6.6"/><circle cx="1010.7" cy="925.3" r="6.6"/><circle cx="1062.0" cy="918.5" r="6.6"/><circle cx="1113.3" cy="920.5" r="6.6"/><circle cx="1164.6" cy="927.2" r="6.6"/><circle cx="1215.9" cy="954.6" r="6.6"/><circle cx="1267.2" cy="962.9" r="6.6"/><circle cx="1318.5" cy="950.4" r="6.6"/><circle cx="1369.8" cy="966.8" r="6.6"/></g>
<path d="M343.8,840.3 L352.4,831.5 L360.9,822.6 L369.4,813.6 L378.0,804.4 L386.6,795.0 L395.1,785.3 L403.7,775.3 L412.2,765.1 L420.8,754.8 L429.3,744.5 L437.9,734.3 L446.4,724.5 L455.0,714.9 L463.5,705.9 L472.1,697.6 L480.6,690.1 L489.2,683.6 L497.7,678.1 L506.2,673.9 L514.8,670.8 L523.4,668.7 L531.9,667.5 L540.5,667.2 L549.0,667.5 L557.6,668.4 L566.1,670.0 L574.7,672.2 L583.2,675.3 L591.8,679.1 L600.3,683.9 L608.9,689.6 L617.4,696.0 L626.0,703.0 L634.5,710.4 L643.0,717.9 L651.6,725.4 L660.2,732.7 L668.7,739.8 L677.2,746.8 L685.8,753.8 L694.4,760.8 L702.9,767.9 L711.5,775.2 L720.0,782.5 L728.6,789.8 L737.1,797.0 L745.7,803.9 L754.2,810.4 L762.8,816.4 L771.3,822.0 L779.9,827.2 L788.4,831.9 L797.0,836.3 L805.5,840.3 L814.1,844.0 L822.6,847.3 L831.2,850.4 L839.7,853.2 L848.2,855.8 L856.8,858.1 L865.4,860.2 L873.9,862.1 L882.5,863.9 L891.0,865.5 L899.5,867.0 L908.1,868.3 L916.7,869.6 L925.2,870.7 L933.8,871.8 L942.3,872.8 L950.9,873.8 L959.4,874.6 L968.0,875.4 L976.5,876.1 L985.0,876.8 L993.6,877.5 L1002.2,878.3 L1010.7,879.2 L1019.2,880.2 L1027.8,881.3 L1036.4,882.5 L1044.9,883.7 L1053.5,884.9 L1062.0,886.2 L1070.6,887.4 L1079.1,888.5 L1087.7,889.7 L1096.2,890.9 L1104.8,892.1 L1113.3,893.4 L1121.9,894.8 L1130.4,896.2 L1139.0,897.8 L1147.5,899.5 L1156.1,901.4 L1164.6,903.6 L1173.2,905.9 L1181.7,908.5 L1190.2,911.1 L1198.8,913.7 L1207.4,916.2 L1215.9,918.5 L1224.5,920.6 L1233.0,922.5 L1241.6,924.1 L1250.1,925.4 L1258.7,926.6 L1267.2,927.6 L1275.8,928.4 L1284.3,929.0 L1292.9,929.4 L1301.4,929.5 L1310.0,929.5 L1318.5,929.1 L1327.1,928.6 L1335.6,927.8 L1344.2,926.8 L1352.7,925.7 L1361.2,924.6 L1369.8,923.3 L1369.8,1006.4 L1361.2,1004.4 L1352.7,1002.4 L1344.2,1000.4 L1335.6,998.5 L1327.1,996.6 L1318.5,994.8 L1310.0,993.1 L1301.4,991.5 L1292.9,989.9 L1284.3,988.4 L1275.8,987.0 L1267.2,985.5 L1258.7,984.1 L1250.1,982.7 L1241.6,981.2 L1233.0,979.7 L1224.5,978.1 L1215.9,976.4 L1207.4,974.6 L1198.8,972.8 L1190.2,970.8 L1181.7,968.9 L1173.2,967.1 L1164.6,965.3 L1156.1,963.8 L1147.5,962.3 L1139.0,960.9 L1130.4,959.6 L1121.9,958.4 L1113.3,957.1 L1104.8,955.9 L1096.2,954.6 L1087.7,953.4 L1079.1,952.1 L1070.6,951.0 L1062.0,949.9 L1053.5,948.9 L1044.9,948.0 L1036.4,947.2 L1027.8,946.4 L1019.2,945.6 L1010.7,944.9 L1002.2,944.1 L993.6,943.4 L985.0,942.7 L976.5,941.9 L968.0,941.1 L959.4,940.2 L950.9,939.3 L942.3,938.4 L933.8,937.4 L925.2,936.3 L916.7,935.2 L908.1,934.0 L899.5,932.7 L891.0,931.3 L882.5,929.7 L873.9,927.9 L865.4,926.0 L856.8,923.7 L848.2,921.2 L839.7,918.4 L831.2,915.3 L822.6,911.8 L814.1,908.1 L805.5,904.0 L797.0,899.7 L788.4,895.0 L779.9,889.9 L771.3,884.4 L762.8,878.5 L754.2,872.2 L745.7,865.4 L737.1,858.2 L728.6,850.7 L720.0,843.1 L711.5,835.4 L702.9,827.8 L694.4,820.3 L685.8,812.9 L677.2,805.6 L668.7,798.2 L660.2,790.9 L651.6,783.3 L643.0,775.7 L634.5,768.1 L626.0,760.7 L617.4,753.7 L608.9,747.4 L600.3,741.8 L591.8,737.2 L583.2,733.6 L574.7,730.9 L566.1,728.9 L557.6,727.8 L549.0,727.4 L540.5,727.6 L531.9,728.5 L523.4,730.2 L514.8,732.6 L506.2,735.8 L497.7,739.9 L489.2,744.9 L480.6,750.7 L472.1,757.4 L463.5,764.9 L455.0,773.3 L446.4,782.4 L437.9,792.3 L429.3,802.8 L420.8,813.8 L412.2,825.3 L403.7,837.1 L395.1,849.0 L386.6,861.0 L378.0,873.0 L369.4,885.1 L360.9,897.2 L352.4,909.3 L343.8,921.4Z" fill="#a8bedf" fill-opacity="0.34"/>
<path d="M343.8,880.9 L352.4,870.4 L360.9,859.9 L369.4,849.3 L378.0,838.7 L386.6,828.0 L395.1,817.1 L403.7,806.2 L412.2,795.2 L420.8,784.3 L429.3,773.6 L437.9,763.3 L446.4,753.4 L455.0,744.1 L463.5,735.4 L472.1,727.5 L480.6,720.4 L489.2,714.2 L497.7,709.0 L506.2,704.8 L514.8,701.7 L523.4,699.4 L531.9,698.0 L540.5,697.4 L549.0,697.4 L557.6,698.1 L566.1,699.5 L574.7,701.5 L583.2,704.4 L591.8,708.2 L600.3,712.9 L608.9,718.5 L617.4,724.9 L626.0,731.9 L634.5,739.3 L643.0,746.8 L651.6,754.4 L660.2,761.8 L668.7,769.0 L677.2,776.2 L685.8,783.3 L694.4,790.5 L702.9,797.8 L711.5,805.3 L720.0,812.8 L728.6,820.3 L737.1,827.6 L745.7,834.6 L754.2,841.3 L762.8,847.5 L771.3,853.2 L779.9,858.5 L788.4,863.5 L797.0,868.0 L805.5,872.2 L814.1,876.0 L822.6,879.6 L831.2,882.8 L839.7,885.8 L848.2,888.5 L856.8,890.9 L865.4,893.1 L873.9,895.0 L882.5,896.8 L891.0,898.4 L899.5,899.8 L908.1,901.1 L916.7,902.4 L925.2,903.5 L933.8,904.6 L942.3,905.6 L950.9,906.5 L959.4,907.4 L968.0,908.2 L976.5,909.0 L985.0,909.7 L993.6,910.5 L1002.2,911.2 L1010.7,912.1 L1019.2,912.9 L1027.8,913.8 L1036.4,914.8 L1044.9,915.9 L1053.5,916.9 L1062.0,918.0 L1070.6,919.2 L1079.1,920.3 L1087.7,921.5 L1096.2,922.8 L1104.8,924.0 L1113.3,925.3 L1121.9,926.6 L1130.4,927.9 L1139.0,929.4 L1147.5,930.9 L1156.1,932.6 L1164.6,934.4 L1173.2,936.5 L1181.7,938.7 L1190.2,940.9 L1198.8,943.2 L1207.4,945.4 L1215.9,947.5 L1224.5,949.4 L1233.0,951.1 L1241.6,952.6 L1250.1,954.1 L1258.7,955.4 L1267.2,956.6 L1275.8,957.7 L1284.3,958.7 L1292.9,959.6 L1301.4,960.5 L1310.0,961.3 L1318.5,962.0 L1327.1,962.6 L1335.6,963.1 L1344.2,963.6 L1352.7,964.0 L1361.2,964.5 L1369.8,964.9" fill="none" stroke="#e0872d" stroke-width="5.0" stroke-linejoin="round"/>
</g>
<g id="turkeys">
<path d="M804.2,681.0V787.2M795.2,681.0h18M795.2,787.2h18M855.5,647.2V794.0M846.5,647.2h18M846.5,794.0h18M906.8,588.3V752.5M897.8,588.3h18M897.8,752.5h18M958.1,683.9V840.3M949.1,683.9h18M949.1,840.3h18M1009.4,764.0V881.8M1000.4,764.0h18M1000.4,881.8h18M1060.7,750.5V885.7M1051.7,750.5h18M1051.7,885.7h18M1112.0,722.5V882.8M1103.0,722.5h18M1103.0,882.8h18M1163.3,851.9V920.0M1154.3,851.9h18M1154.3,920.0h18M1214.6,836.9V946.5M1205.6,836.9h18M1205.6,946.5h18M1265.9,883.8V972.6M1256.9,883.8h18M1256.9,972.6h18M1317.2,934.0V983.2M1308.2,934.0h18M1308.2,983.2h18M1368.5,900.2V966.3M1359.5,900.2h18M1359.5,966.3h18" fill="none" stroke="#3d0f70" stroke-width="1.9"/>
<g fill="#4d1291"><circle cx="804.2" cy="734.1" r="6.6"/><circle cx="855.5" cy="720.6" r="6.6"/><circle cx="906.8" cy="670.4" r="6.6"/><circle cx="958.1" cy="762.1" r="6.6"/><circle cx="1009.4" cy="822.9" r="6.6"/><circle cx="1060.7" cy="819.1" r="6.6"/><circle cx="1112.0" cy="801.7" r="6.6"/><circle cx="1163.3" cy="885.7" r="6.6"/><circle cx="1214.6" cy="892.5" r="6.6"/><circle cx="1265.9" cy="928.2" r="6.6"/><circle cx="1317.2" cy="958.6" r="6.6"/><circle cx="1368.5" cy="933.0" r="6.6"/></g>
<path d="M804.2,640.0 L812.8,646.7 L821.3,653.5 L829.9,660.1 L838.4,666.6 L847.0,673.0 L855.5,679.1 L864.1,684.9 L872.6,690.6 L881.2,696.1 L889.7,701.4 L898.2,706.7 L906.8,711.9 L915.4,717.1 L923.9,722.3 L932.5,727.3 L941.0,732.1 L949.6,736.7 L958.1,740.9 L966.7,744.7 L975.2,748.1 L983.8,751.3 L992.3,754.4 L1000.9,757.3 L1009.4,760.2 L1018.0,763.1 L1026.5,766.1 L1035.0,769.1 L1043.6,772.2 L1052.2,775.3 L1060.7,778.5 L1069.2,781.8 L1077.8,785.1 L1086.3,788.5 L1094.9,792.1 L1103.5,795.8 L1112.0,799.8 L1120.5,803.9 L1129.1,808.1 L1137.7,812.5 L1146.2,817.0 L1154.8,821.4 L1163.3,825.8 L1171.8,830.2 L1180.4,834.4 L1189.0,838.6 L1197.5,842.7 L1206.0,846.8 L1214.6,850.9 L1223.2,855.0 L1231.7,859.1 L1240.2,863.2 L1248.8,867.2 L1257.3,871.2 L1265.9,875.1 L1274.5,878.9 L1283.0,882.7 L1291.5,886.3 L1300.1,889.7 L1308.7,892.8 L1317.2,895.7 L1325.8,898.3 L1334.3,900.7 L1342.8,902.8 L1351.4,904.8 L1359.9,906.7 L1368.5,908.5 L1368.5,1024.3 L1359.9,1018.2 L1351.4,1012.1 L1342.8,1006.1 L1334.3,1000.1 L1325.8,994.2 L1317.2,988.4 L1308.7,982.8 L1300.1,977.3 L1291.5,971.9 L1283.0,966.6 L1274.5,961.3 L1265.9,956.2 L1257.3,951.1 L1248.8,946.0 L1240.2,941.0 L1231.7,936.1 L1223.2,931.1 L1214.6,926.2 L1206.0,921.4 L1197.5,916.6 L1189.0,912.0 L1180.4,907.5 L1171.8,903.2 L1163.3,899.2 L1154.8,895.5 L1146.2,891.9 L1137.7,888.4 L1129.1,884.9 L1120.5,881.1 L1112.0,877.0 L1103.5,872.5 L1094.9,867.6 L1086.3,862.4 L1077.8,857.0 L1069.2,851.6 L1060.7,846.1 L1052.2,840.7 L1043.6,835.4 L1035.0,830.1 L1026.5,824.8 L1018.0,819.5 L1009.4,814.2 L1000.9,808.9 L992.3,803.7 L983.8,798.6 L975.2,793.8 L966.7,789.3 L958.1,785.3 L949.6,781.8 L941.0,778.8 L932.5,776.2 L923.9,773.9 L915.4,771.8 L906.8,769.8 L898.2,767.9 L889.7,766.1 L881.2,764.4 L872.6,762.8 L864.1,761.4 L855.5,760.2 L847.0,759.1 L838.4,758.3 L829.9,757.5 L821.3,756.9 L812.8,756.4 L804.2,755.8Z" fill="#a8bedf" fill-opacity="0.34"/>
<path d="M804.2,697.9 L812.8,701.5 L821.3,705.2 L829.9,708.8 L838.4,712.4 L847.0,716.0 L855.5,719.6 L864.1,723.2 L872.6,726.7 L881.2,730.2 L889.7,733.8 L898.2,737.3 L906.8,740.9 L915.4,744.5 L923.9,748.1 L932.5,751.7 L941.0,755.5 L949.6,759.2 L958.1,763.1 L966.7,767.0 L975.2,771.0 L983.8,775.0 L992.3,779.0 L1000.9,783.1 L1009.4,787.2 L1018.0,791.3 L1026.5,795.4 L1035.0,799.6 L1043.6,803.8 L1052.2,808.0 L1060.7,812.3 L1069.2,816.7 L1077.8,821.1 L1086.3,825.5 L1094.9,829.8 L1103.5,834.2 L1112.0,838.4 L1120.5,842.5 L1129.1,846.5 L1137.7,850.5 L1146.2,854.5 L1154.8,858.5 L1163.3,862.5 L1171.8,866.7 L1180.4,870.9 L1189.0,875.3 L1197.5,879.7 L1206.0,884.1 L1214.6,888.6 L1223.2,893.1 L1231.7,897.6 L1240.2,902.1 L1248.8,906.6 L1257.3,911.1 L1265.9,915.6 L1274.5,920.1 L1283.0,924.6 L1291.5,929.1 L1300.1,933.5 L1308.7,937.8 L1317.2,942.1 L1325.8,946.3 L1334.3,950.4 L1342.8,954.4 L1351.4,958.5 L1359.9,962.4 L1368.5,966.4" fill="none" stroke="#4b0f8c" stroke-width="5.8" stroke-linejoin="round"/>
</g>
<g id="rabbits">
<path d="M956.6,525.6V718.7M947.6,525.6h18M947.6,718.7h18M1007.9,666.0V787.7M998.9,666.0h18M998.9,787.7h18M1059.2,504.3V686.8M1050.2,504.3h18M1050.2,686.8h18M1110.5,568.5V703.2M1101.5,568.5h18M1101.5,703.2h18M1161.8,502.4V714.8M1152.8,502.4h18M1152.8,714.8h18M1213.1,579.6V777.6M1204.1,579.6h18M1204.1,777.6h18M1264.4,743.8V833.6M1255.4,743.8h18M1255.4,833.6h18M1315.7,732.2V806.0M1306.7,732.2h18M1306.7,806.0h18M1367.0,754.4V845.1M1358.0,754.4h18M1358.0,845.1h18" fill="none" stroke="#808080" stroke-width="1.9"/>
<g fill="#7f7f7f"><circle cx="956.6" cy="622.1" r="6.6"/><circle cx="1007.9" cy="726.9" r="6.6"/><circle cx="1059.2" cy="596.0" r="6.6"/><circle cx="1110.5" cy="635.0" r="6.6"/><circle cx="1161.8" cy="608.6" r="6.6"/><circle cx="1213.1" cy="678.1" r="6.6"/><circle cx="1264.4" cy="788.2" r="6.6"/><circle cx="1315.7" cy="768.9" r="6.6"/><circle cx="1367.0" cy="799.8" r="6.6"/></g>
<path d="M956.6,547.8 L965.1,551.3 L973.7,554.8 L982.2,558.2 L990.8,561.4 L999.3,564.4 L1007.9,567.1 L1016.4,569.4 L1025.0,571.4 L1033.5,573.1 L1042.1,574.4 L1050.6,575.5 L1059.2,576.2 L1067.8,576.6 L1076.3,576.8 L1084.8,577.0 L1093.4,577.3 L1102.0,577.8 L1110.5,578.7 L1119.0,580.0 L1127.6,581.9 L1136.1,584.1 L1144.7,586.8 L1153.2,589.8 L1161.8,593.1 L1170.3,596.8 L1178.9,600.7 L1187.5,605.1 L1196.0,609.9 L1204.5,615.2 L1213.1,621.1 L1221.7,627.6 L1230.2,634.6 L1238.8,642.0 L1247.3,649.5 L1255.8,657.1 L1264.4,664.6 L1273.0,671.9 L1281.5,678.9 L1290.0,685.4 L1298.6,691.4 L1307.2,696.7 L1315.7,701.3 L1324.2,705.0 L1332.8,708.0 L1341.3,710.5 L1349.9,712.5 L1358.5,714.2 L1367.0,715.8 L1367.0,930.1 L1358.5,912.7 L1349.9,895.5 L1341.3,879.0 L1332.8,863.5 L1324.2,849.2 L1315.7,836.5 L1307.2,825.5 L1298.6,816.1 L1290.0,807.8 L1281.5,800.3 L1273.0,793.2 L1264.4,786.2 L1255.8,779.0 L1247.3,771.7 L1238.8,764.4 L1230.2,757.4 L1221.7,750.8 L1213.1,744.7 L1204.5,739.4 L1196.0,734.8 L1187.5,730.7 L1178.9,727.0 L1170.3,723.7 L1161.8,720.6 L1153.2,717.6 L1144.7,714.7 L1136.1,711.9 L1127.6,709.2 L1119.0,706.6 L1110.5,704.2 L1102.0,701.8 L1093.4,699.7 L1084.8,698.0 L1076.3,696.7 L1067.8,695.9 L1059.2,695.9 L1050.6,696.6 L1042.1,698.2 L1033.5,700.7 L1025.0,704.1 L1016.4,708.4 L1007.9,713.8 L999.3,720.3 L990.8,727.6 L982.2,735.6 L973.7,744.1 L965.1,753.0 L956.6,762.1Z" fill="#a8bedf" fill-opacity="0.34"/>
<path d="M956.6,654.9 L965.1,652.2 L973.7,649.5 L982.2,646.9 L990.8,644.5 L999.3,642.3 L1007.9,640.5 L1016.4,638.9 L1025.0,637.7 L1033.5,636.9 L1042.1,636.3 L1050.6,636.0 L1059.2,636.0 L1067.8,636.2 L1076.3,636.7 L1084.8,637.5 L1093.4,638.5 L1102.0,639.8 L1110.5,641.4 L1119.0,643.3 L1127.6,645.5 L1136.1,648.0 L1144.7,650.7 L1153.2,653.7 L1161.8,656.9 L1170.3,660.2 L1178.9,663.9 L1187.5,667.9 L1196.0,672.4 L1204.5,677.3 L1213.1,682.9 L1221.7,689.2 L1230.2,696.0 L1238.8,703.2 L1247.3,710.6 L1255.8,718.1 L1264.4,725.4 L1273.0,732.6 L1281.5,739.6 L1290.0,746.6 L1298.6,753.7 L1307.2,761.1 L1315.7,768.9 L1324.2,777.1 L1332.8,785.8 L1341.3,794.8 L1349.9,804.0 L1358.5,813.4 L1367.0,822.9" fill="none" stroke="#7f7f7f" stroke-width="5.2" stroke-linejoin="round"/>
</g>
<rect x="285.5" y="425.7" width="1208" height="604.3" fill="none" stroke="#7f7f7f" stroke-width="1.6"/>
<path d="M273,1017.0H286M273,968.7H286M273,920.5H286M273,872.2H286M273,823.9H286M273,775.6H286M273,727.4H286M273,679.1H286M273,630.8H286M273,582.5H286M273,534.2H286M273,486.0H286M273,437.7H286M346.0,1030V1042.5M397.3,1030V1042.5M448.6,1030V1042.5M499.9,1030V1042.5M551.2,1030V1042.5M602.5,1030V1042.5M653.8,1030V1042.5M705.1,1030V1042.5M756.4,1030V1042.5M807.7,1030V1042.5M859.0,1030V1042.5M910.3,1030V1042.5M961.6,1030V1042.5M1012.9,1030V1042.5M1064.2,1030V1042.5M1115.5,1030V1042.5M1166.8,1030V1042.5M1218.1,1030V1042.5M1269.4,1030V1042.5M1320.7,1030V1042.5M1372.0,1030V1042.5" stroke="#7f7f7f" stroke-width="1.6" fill="none"/>
<g font-size="25" fill="#000"><text x="264.5" y="1026.6" text-anchor="end" textLength="14.7" lengthAdjust="spacingAndGlyphs">0</text><text x="264.5" y="978.3" text-anchor="end" textLength="14.7" lengthAdjust="spacingAndGlyphs">5</text><text x="264.5" y="930.1" text-anchor="end" textLength="29.3" lengthAdjust="spacingAndGlyphs">10</text><text x="264.5" y="881.8" text-anchor="end" textLength="29.3" lengthAdjust="spacingAndGlyphs">15</text><text x="264.5" y="833.5" text-anchor="end" textLength="29.3" lengthAdjust="spacingAndGlyphs">20</text><text x="264.5" y="785.2" text-anchor="end" textLength="29.3" lengthAdjust="spacingAndGlyphs">25</text><text x="264.5" y="737.0" text-anchor="end" textLength="29.3" lengthAdjust="spacingAndGlyphs">30</text><text x="264.5" y="688.7" text-anchor="end" textLength="29.3" lengthAdjust="spacingAndGlyphs">35</text><text x="264.5" y="640.4" text-anchor="end" textLength="29.3" lengthAdjust="spacingAndGlyphs">40</text><text x="264.5" y="592.1" text-anchor="end" textLength="29.3" lengthAdjust="spacingAndGlyphs">45</text><text x="264.5" y="543.9" text-anchor="end" textLength="29.3" lengthAdjust="spacingAndGlyphs">50</text><text x="264.5" y="495.6" text-anchor="end" textLength="29.3" lengthAdjust="spacingAndGlyphs">55</text><text x="264.5" y="447.3" text-anchor="end" textLength="29.3" lengthAdjust="spacingAndGlyphs">60</text><text font-size="26.7" transform="translate(328.9,1067.7) rotate(45)">2004</text><text font-size="26.7" transform="translate(380.2,1067.7) rotate(45)">2005</text><text font-size="26.7" transform="translate(431.5,1067.7) rotate(45)">2006</text><text font-size="26.7" transform="translate(482.8,1067.7) rotate(45)">2007</text><text font-size="26.7" transform="translate(534.1,1067.7) rotate(45)">2008</text><text font-size="26.7" transform="translate(585.4,1067.7) rotate(45)">2009</text><text font-size="26.7" transform="translate(636.7,1067.7) rotate(45)">2010</text><text font-size="26.7" transform="translate(688.0,1067.7) rotate(45)">2011</text><text font-size="26.7" transform="translate(739.3,1067.7) rotate(45)">2012</text><text font-size="26.7" transform="translate(790.6,1067.7) rotate(45)">2013</text><text font-size="26.7" transform="translate(841.9,1067.7) rotate(45)">2014</text><text font-size="26.7" transform="translate(893.2,1067.7) rotate(45)">2015</text><text font-size="26.7" transform="translate(944.5,1067.7) rotate(45)">2016</text><text font-size="26.7" transform="translate(995.8,1067.7) rotate(45)">2017</text><text font-size="26.7" transform="translate(1047.1,1067.7) rotate(45)">2018</text><text font-size="26.7" transform="translate(1098.4,1067.7) rotate(45)">2019</text><text font-size="26.7" transform="translate(1149.7,1067.7) rotate(45)">2020</text><text font-size="26.7" transform="translate(1201.0,1067.7) rotate(45)">2021</text><text font-size="26.7" transform="translate(1252.3,1067.7) rotate(45)">2022</text><text font-size="26.7" transform="translate(1303.6,1067.7) rotate(45)">2023</text><text font-size="26.7" transform="translate(1354.9,1067.7) rotate(45)">2024</text>
<text transform="translate(199.5,727) rotate(-90)" text-anchor="middle" textLength="251" lengthAdjust="spacingAndGlyphs">DD/AY and DDDAnat</text>
<text x="891.2" y="1153.3" text-anchor="middle" textLength="53" lengthAdjust="spacingAndGlyphs">Year</text>
</g>
<g font-size="27.5">
<text x="1381.5" y="809" fill="#6b6b6b">22.6</text>
<text x="1381.2" y="869" fill="#1f8cc0">15.9</text>
<text x="1383" y="925.7" fill="#5b0fb0">8.7</text>
<text x="1388" y="958.6" fill="#9bbb59">6.6</text>
<text x="1388" y="991.4" fill="#ed7d31">5.2</text>
<text x="1388" y="1018.6" fill="#00a060">3.3</text>
</g>
<rect x="462.4" y="1178" width="854.6" height="33" fill="#fff" stroke="#8c8c8c" stroke-width="1.6"/>
<g font-size="25" fill="#000"><circle cx="479.8" cy="1194.5" r="6.5" fill="#5b8bd0"/><text x="498.3" y="1203.3" textLength="135.6" lengthAdjust="spacingAndGlyphs">Veal calves</text><circle cx="659" cy="1194.5" r="6.5" fill="#1ea537"/><text x="676.6" y="1203.3" textLength="131.8" lengthAdjust="spacingAndGlyphs">Dairy cattle</text><circle cx="833.8" cy="1194.5" r="6.5" fill="#a9bf45"/><text x="851.6" y="1203.3" textLength="51.5" lengthAdjust="spacingAndGlyphs">Pigs</text><circle cx="928.3" cy="1194.5" r="6.5" fill="#4d1291"/><text x="947.2" y="1203.3" textLength="93.6" lengthAdjust="spacingAndGlyphs">Turkeys</text><circle cx="1066.2" cy="1194.5" r="6.5" fill="#e08a2e"/><text x="1084.7" y="1203.3" textLength="88.7" lengthAdjust="spacingAndGlyphs">Broilers</text><circle cx="1199" cy="1194.5" r="6.5" fill="#8a8a8a"/><text x="1217.3" y="1203.3" textLength="89.4" lengthAdjust="spacingAndGlyphs">Rabbits</text></g>
</svg>
</body></html>
